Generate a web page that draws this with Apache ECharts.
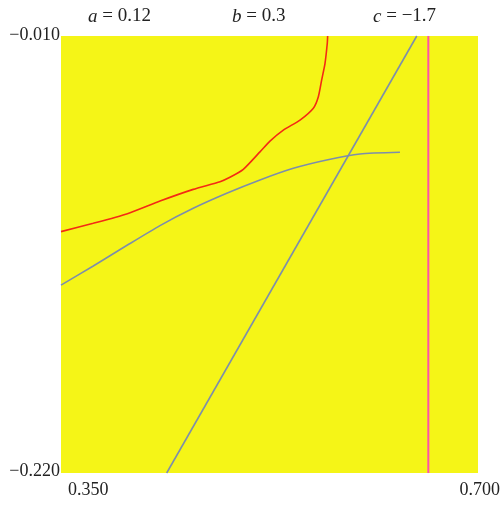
<!DOCTYPE html>
<html>
<head>
<meta charset="utf-8">
<script src="https://cdn.jsdelivr.net/npm/echarts@6/dist/echarts.min.js"></script>
<style>
  html, body { margin: 0; padding: 0; background: #fff; }
  #chart { width: 500px; height: 505px; }
</style>
</head>
<body>
<div id="chart"></div>
<script>
// parameters shown in the header
const params = [
  { name: 'a', value: '0.12' },
  { name: 'b', value: '0.3' },
  { name: 'c', value: '\u22121.7' }
]

const xRange = [0.35, 0.70]
const yRange = [-0.22, -0.01]
const xTickLabels = ['0.350', '0.700']
const yTickLabels = ['\u22120.010', '\u22120.220']

// curved branch (red)
const redX = [0.3500, 0.3771, 0.4051, 0.4331, 0.4610, 0.4835, 0.4918, 0.5030, 0.5170, 0.5254, 0.5366, 0.5506, 0.5618, 0.5660, 0.5688, 0.5716, 0.5735, 0.5738]
const redY = [-0.1040, -0.1000, -0.0955, -0.0893, -0.0837, -0.0800, -0.0779, -0.0741, -0.0657, -0.0605, -0.0552, -0.0504, -0.0447, -0.0392, -0.0311, -0.0231, -0.0135, -0.0100]

// curved branch (grey blue)
const blueX = [0.3500, 0.3771, 0.4051, 0.4331, 0.4610, 0.4891, 0.5170, 0.5450, 0.5730, 0.6009, 0.6345]
const blueY = [-0.1297, -0.1205, -0.1107, -0.1011, -0.0928, -0.0856, -0.0792, -0.0736, -0.0696, -0.0667, -0.0659]

// straight line (grey blue)
const lineX = [0.4387, 0.6486]
const lineY = [-0.22, -0.01]

// vertical line (magenta)
const vertX = [0.6583, 0.6583]
const vertY = [-0.22, -0.01]

function zip(xs, ys) {
  return xs.map((x, i) => [x, ys[i]])
}

const chart = echarts.init(document.getElementById('chart'))

const serif = '"Liberation Serif", "DejaVu Serif", serif'
const headerLeft = [88, 232, 373]

const graphic = []
params.forEach((p, i) => {
  graphic.push({
    type: 'text',
    left: headerLeft[i],
    top: 7,
    style: {
      text: '{v|' + p.name + '} = ' + p.value,
      rich: { v: { fontStyle: 'italic', fontFamily: serif, fontSize: 19, fill: '#222' } },
      font: '19px ' + serif,
      fill: '#222'
    }
  })
})
graphic.push({ type: 'text', right: 440, top: 26, style: { text: yTickLabels[0], font: '18px ' + serif, fill: '#222' } })
graphic.push({ type: 'text', right: 440, top: 462, style: { text: yTickLabels[1], font: '18px ' + serif, fill: '#222' } })
graphic.push({ type: 'text', left: 68, top: 481, style: { text: xTickLabels[0], font: '18px ' + serif, fill: '#222' } })
graphic.push({ type: 'text', right: 0, top: 481, style: { text: xTickLabels[1], font: '18px ' + serif, fill: '#222' } })

const option = {
  animation: false,
  grid: {
    left: 61,
    right: 22,
    top: 36,
    bottom: 32,
    show: true,
    backgroundColor: '#f5f517',
    borderWidth: 0
  },
  xAxis: {
    type: 'value',
    min: xRange[0],
    max: xRange[1],
    axisLine: { show: false },
    axisTick: { show: false },
    axisLabel: { show: false },
    splitLine: { show: false }
  },
  yAxis: {
    type: 'value',
    min: yRange[0],
    max: yRange[1],
    axisLine: { show: false },
    axisTick: { show: false },
    axisLabel: { show: false },
    splitLine: { show: false }
  },
  graphic: graphic,
  series: [
    {
      type: 'line',
      data: zip(blueX, blueY),
      smooth: 0.2,
      showSymbol: false,
      lineStyle: { color: '#7d8eab', width: 1.6 },
      clip: true
    },
    {
      type: 'line',
      data: zip(lineX, lineY),
      showSymbol: false,
      lineStyle: { color: '#7d8eab', width: 1.6 },
      clip: true
    },
    {
      type: 'line',
      data: zip(redX, redY),
      smooth: 0.2,
      showSymbol: false,
      lineStyle: { color: '#f42a14', width: 1.6 },
      clip: true
    },
    {
      type: 'line',
      data: zip(vertX, vertY),
      showSymbol: false,
      lineStyle: { color: '#ff52a8', width: 2 },
      clip: true
    }
  ]
}

chart.setOption(option)
</script>
</body>
</html>
